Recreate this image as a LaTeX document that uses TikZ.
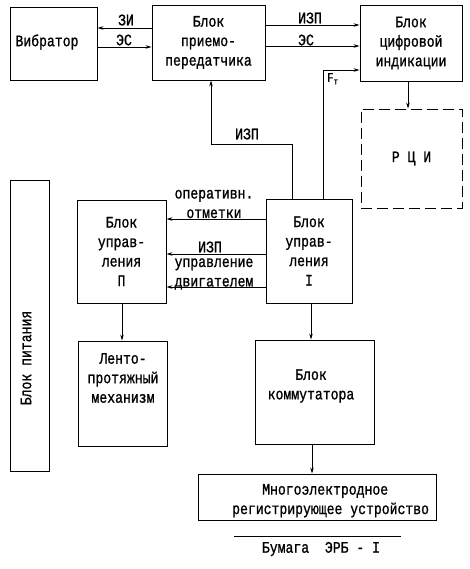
\documentclass[tikz,border=0pt]{standalone}
\usepackage{fontspec}
\setmainfont{Liberation Mono}[FakeStretch=0.82,FakeBold=1]
\usetikzlibrary{arrows.meta,calc}
\begin{document}
\begin{tikzpicture}[x=1pt,y=-1pt,
  every node/.style={font=\fontsize{16}{19.5}\selectfont,inner sep=0pt},
  box/.style={draw,line width=0.9pt,align=center},
  txt/.style={align=center},
  arr/.style={line width=0.8pt,-{Stealth[length=6pt,width=3.5pt]}},
  ln/.style={line width=0.8pt},
  dbox/.style={draw,line width=0.9pt,dash pattern=on 11pt off 5pt,align=center}]
\useasboundingbox (0,0) rectangle (470,569);
% boxes
\node[box,minimum width=87pt,minimum height=73pt] (vib) at (53.5,43.5) {};
\node[txt] (vibt) at (47,42) {Вибратор};
\node[box,minimum width=113pt,minimum height=75pt] (pr) at (208.5,42.5) {Блок\\приемо-\\передатчика};
\node[box,minimum width=102pt,minimum height=76pt] (ind) at (411,43) {Блок\\цифровой\\индикации};
\node[dbox,minimum width=101pt,minimum height=99pt] (rci) at (411.5,158.5) {Р~Ц~И};
\node[box,minimum width=39pt,minimum height=291pt] (pit) at (29.5,325.5) {};
\node[txt,rotate=90] (pitt) at (26,358) {Блок питания};
\node[box,minimum width=89pt,minimum height=103pt] (u2) at (121.5,251.5) {Блок\\управ-\\ления\\П};
\node[box,minimum width=86pt,minimum height=104pt] (u1) at (309,251) {Блок\\управ-\\ления\\I};
\node[box,minimum width=89pt,minimum height=105pt] (lenta) at (122.5,393.5) {};
\node[txt] (lentat) at (123,378) {Ленто-\\протяжный\\механизм};
\node[box,minimum width=119pt,minimum height=104pt] (komm) at (314.5,392) {};
\node[txt] (kommt) at (311,386) {Блок\\коммутатора};
\node[box,minimum width=238pt,minimum height=46pt] (mno) at (317,497) {};
\node[txt,anchor=west] (mno1) at (262,491) {Многоэлектродное};
\node[txt,anchor=west] (mno2) at (232,510) {регистрирующее устройство};
% connectors top
\draw[arr] (pr.west |- 0,28) -- (vib.east |- 0,28);
\draw[arr] (vib.east |- 0,47) -- (pr.west |- 0,47);
\node (lzi) at (126,20) {ЗИ};
\node (les1) at (124,40) {ЭС};
\draw[arr] (pr.east |- 0,25) -- (ind.west |- 0,25);
\draw[arr] (pr.east |- 0,46) -- (ind.west |- 0,46);
\node (lizp1) at (310,18) {ИЗП};
\node (les2) at (306,40) {ЭС};
\coordinate (ft) at (323,70);
\draw[arr] (u1.north -| ft) -- (ft) -- (ind.west |- ft);
\node[anchor=north west] (lft) at (327,73) {\fontsize{13}{13}\selectfont F\raisebox{-2.5pt}{\fontsize{9}{9}\selectfont т}};
\coordinate (iz) at (292,144);
\draw[arr] (u1.north -| iz) -- (iz) -| (pr.south -| 211,0);
\node (lizp2) at (247,134) {ИЗП};
\draw[arr] (ind.south -| 408,0) -- (rci.north -| 408,0);
% between control blocks
\draw[arr] (u1.west |- 0,219) -- (u2.east |- 0,219);
\node[txt] (lop) at (214,204) {оперативн.\\отметки};
\draw[arr] (u1.west |- 0,254) -- (u2.east |- 0,254);
\node (lizp3) at (210,247) {ИЗП};
\draw[arr] (u1.west |- 0,287) -- (u2.east |- 0,287);
\node[txt] (lud) at (214,274) {управление\\двигателем};
% down arrows
\draw[arr] (u2.south -| 122,0) -- (lenta.north -| 122,0);
\draw[arr] (u1.south -| 311,0) -- (komm.north -| 311,0);
\draw[arr] (komm.south -| 312,0) -- (mno.north -| 312,0);
% paper line
\coordinate (pl1) at (234,536);
\coordinate (pl2) at (401,536);
\draw[ln] (pl1) -- (pl2);
\node (bum) at (321,549) {Бумага~~ЭРБ - I};
\end{tikzpicture}
\end{document}
